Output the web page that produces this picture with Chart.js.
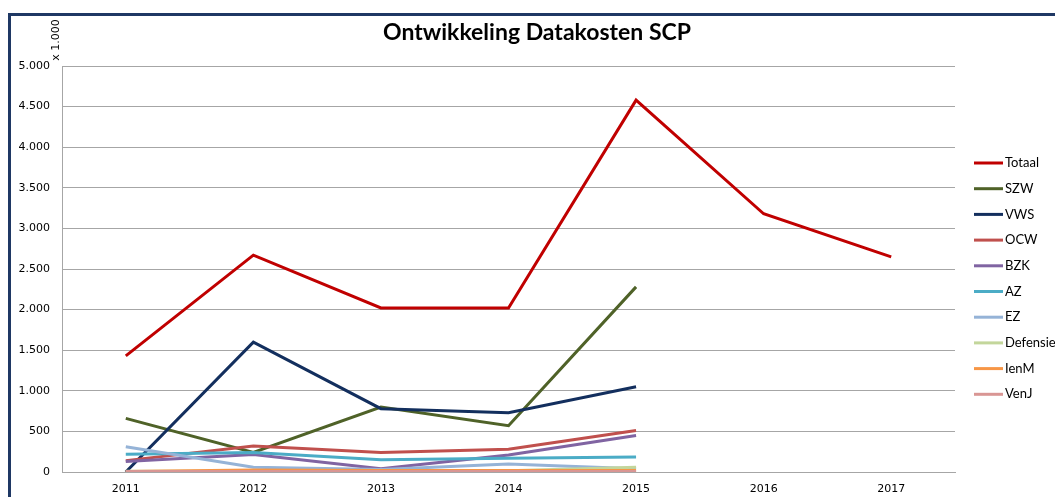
<!DOCTYPE html>
<html>
<head>
<meta charset="utf-8">
<script src="https://cdn.jsdelivr.net/npm/chart.js@4"></script>
<style>
  html, body { margin: 0; padding: 0; background: #fff; }
  #wrap { width: 1055px; height: 497px; position: relative; }
</style>
</head>
<body>
<div id="wrap"><canvas id="chart" width="1055" height="497"></canvas></div>
<script>
// jaren en reeksen (x 1.000)
const years = ["2011", "2012", "2013", "2014", "2015", "2016", "2017"];
const totaal = [1430, 2670, 2020, 2020, 4580, 3180, 2650];
const szw = [660, 240, 800, 570, 2280];
const vws = [0, 1600, 780, 730, 1050];
const ocw = [140, 320, 240, 280, 510];
const bzk = [130, 215, 40, 210, 450];
const az = [220, 240, 150, 170, 185];
const ez = [310, 60, 30, 100, 40];
const defensie = [10, 10, 10, 15, 60];
const ienm = [5, 25, 20, 20, 20];
const venj = [5, 5, 5, 5, 5];

const seriesNames = ["Totaal", "SZW", "VWS", "OCW", "BZK", "AZ", "EZ", "Defensie", "IenM", "VenJ"];
const seriesData = [totaal, szw, vws, ocw, bzk, az, ez, defensie, ienm, venj];
const seriesColors = ["#C00000", "#4F6228", "#132F5E", "#C0504D", "#8064A2", "#4BACC6", "#95B3D7", "#C3D69B", "#F79646", "#D99694"];

const yTicks = [0, 500, 1000, 1500, 2000, 2500, 3000, 3500, 4000, 4500, 5000];

function fmt(v) {
    return String(v).replace(/\B(?=(\d{3})+(?!\d))/g, ".");
}

// kader, titel, eenheid en legenda
const extras = {
    id: "extras",
    beforeDraw(chart) {
        const c = chart.ctx;
        c.save();
        c.fillStyle = "#fff";
        c.fillRect(0, 0, chart.width, chart.height);
        c.strokeStyle = "#1F3864";
        c.lineWidth = 3;
        c.beginPath();
        c.moveTo(9.5, 497);
        c.lineTo(9.5, 14.5);
        c.lineTo(1055, 14.5);
        c.stroke();
        c.restore();
    },
    afterDraw(chart) {
        const c = chart.ctx;
        c.save();
        c.fillStyle = "#000";
        c.font = "bold 23px Lato";
        c.textAlign = "center";
        c.textBaseline = "middle";
        c.fillText("Ontwikkeling Datakosten SCP", 537, 33);

        c.font = "11px 'DejaVu Sans'";
        c.translate(56, 40);
        c.rotate(-Math.PI / 2);
        c.fillText("x 1.000", 0, 0);
        c.restore();

        c.save();
        c.font = "13px Lato";
        c.textBaseline = "middle";
        c.textAlign = "left";
        chart.data.datasets.forEach((ds, i) => {
            const y = 163 + i * 25.7;
            c.strokeStyle = ds.borderColor;
            c.lineWidth = 3;
            c.beginPath();
            c.moveTo(974, y);
            c.lineTo(1003, y);
            c.stroke();
            c.fillStyle = "#000";
            c.fillText(ds.label, 1005, y);
        });
        c.restore();
    },
};

const ctx = document.getElementById("chart").getContext("2d");
new Chart(ctx, {
    type: "line",
    data: {
        labels: years,
        datasets: seriesNames.map((name, i) => ({
            label: name,
            data: seriesData[i],
            borderColor: seriesColors[i],
            backgroundColor: seriesColors[i],
            borderWidth: 3,
            pointRadius: 0,
            tension: 0,
            fill: false,
            order: -i,
        })),
    },
    options: {
        responsive: false,
        animation: false,
        layout: { padding: { top: 66, right: 100, left: 0, bottom: 0 } },
        plugins: {
            legend: { display: false },
            title: { display: false },
            tooltip: { enabled: false },
        },
        scales: {
            x: {
                offset: true,
                grid: { display: false, drawTicks: false },
                border: { color: "#A6A6A6", width: 1 },
                ticks: {
                    color: "#000",
                    font: { family: "DejaVu Sans", size: 11 },
                    padding: 11,
                    maxRotation: 0,
                },
                afterFit(scale) { scale.height = 25; },
            },
            y: {
                min: 0,
                max: 5000,
                afterBuildTicks(scale) {
                    scale.ticks = yTicks.map((v) => ({ value: v }));
                },
                grid: { color: "#A6A6A6", lineWidth: 1, drawTicks: false },
                border: { color: "#A6A6A6", width: 1 },
                ticks: {
                    color: "#000",
                    font: { family: "DejaVu Sans", size: 11 },
                    padding: 12,
                    callback: (v) => fmt(v),
                },
                afterFit(scale) { scale.width = 62; },
            },
        },
    },
    plugins: [extras],
});
</script>
</body>
</html>
